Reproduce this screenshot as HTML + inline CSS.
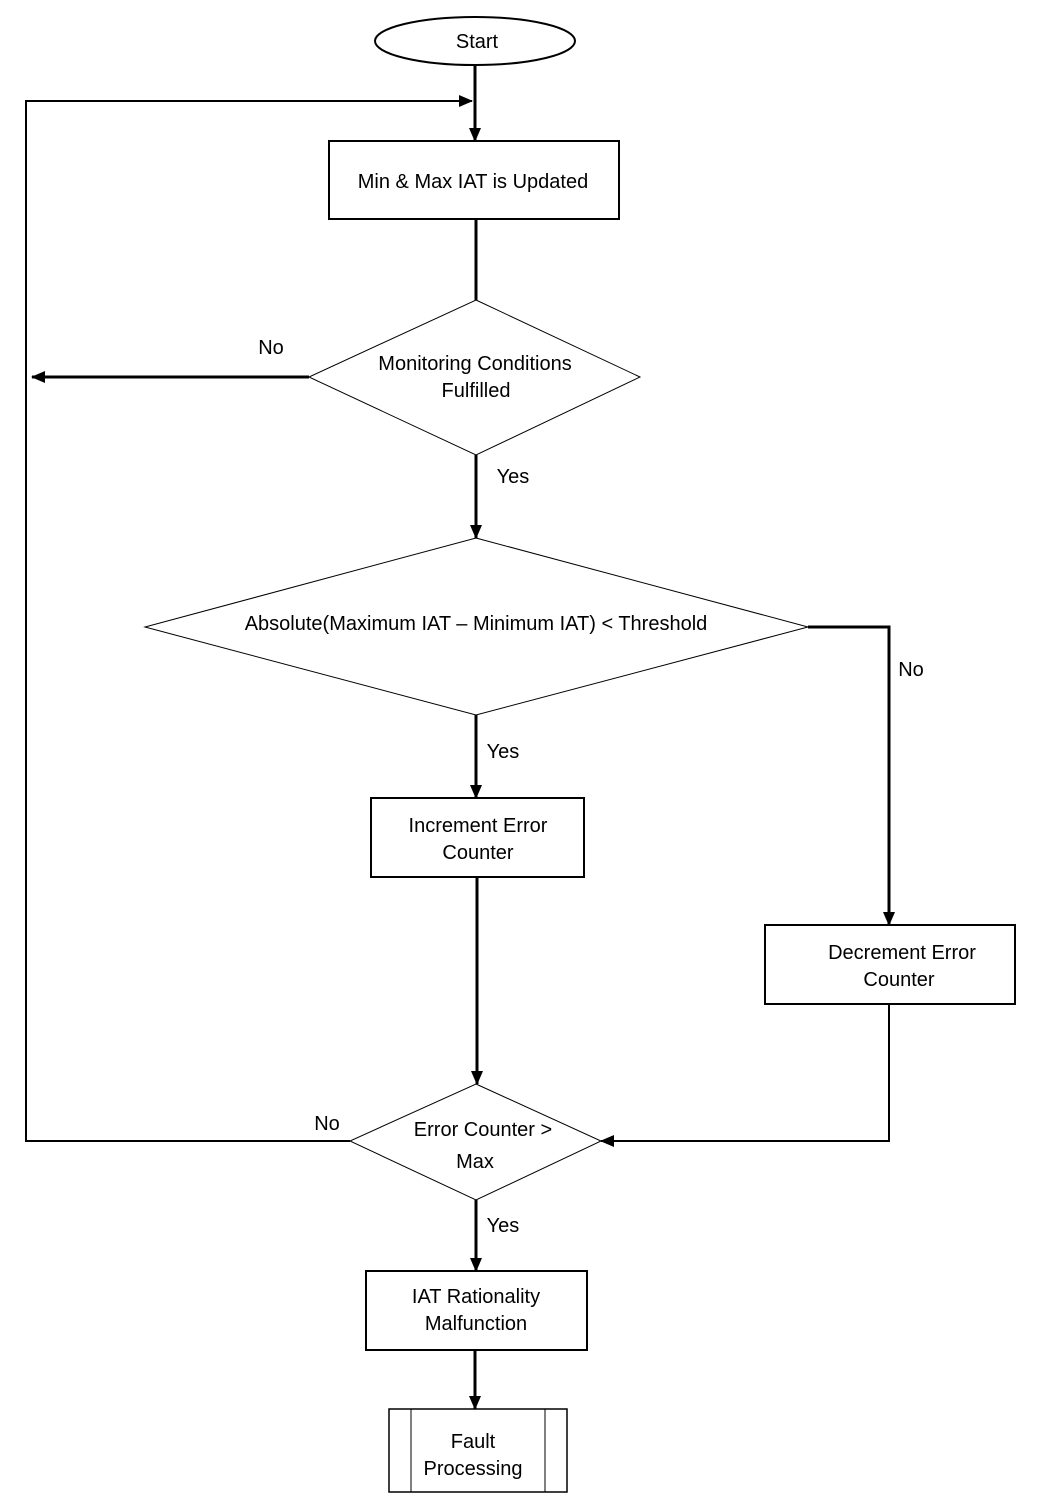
<!DOCTYPE html>
<html><head><meta charset="utf-8"><style>
html,body{margin:0;padding:0;background:#fff;}
svg text{font-family:"Liberation Sans",Arial,sans-serif;font-size:20px;fill:#000;text-anchor:middle;}
</style></head><body>
<svg width="1056" height="1502" viewBox="0 0 1056 1502" xmlns="http://www.w3.org/2000/svg">
<defs>
<marker id="a" markerWidth="10" markerHeight="10" refX="9" refY="5" orient="auto" markerUnits="userSpaceOnUse" viewBox="0 0 10 10">
<path d="M0,0 L10,5 L0,10 z" fill="#000" transform="scale(1)"/>
</marker>
<marker id="b" markerWidth="14" markerHeight="14" refX="13" refY="7" orient="auto" markerUnits="userSpaceOnUse" viewBox="0 0 14 14">
<path d="M0,1 L14,7 L0,13 z" fill="#000"/>
</marker>
</defs>
<g fill="none" stroke="#000">
<ellipse cx="475" cy="41" rx="100" ry="24" stroke-width="2"/>
<rect x="329" y="141" width="290" height="78" stroke-width="2"/>
<polygon points="476,300 640,377 476,455 309,377" stroke-width="1"/>
<polygon points="476,538 808,627 476,715 145,627" stroke-width="1"/>
<rect x="371" y="798" width="213" height="79" stroke-width="2"/>
<rect x="765" y="925" width="250" height="79" stroke-width="2"/>
<polygon points="476,1084 601,1141 476,1200 350,1141" stroke-width="1"/>
<rect x="366" y="1271" width="221" height="79" stroke-width="2"/>
<rect x="389" y="1409" width="178" height="83" stroke-width="1.5"/>
<line x1="411" y1="1409" x2="411" y2="1492" stroke-width="1"/>
<line x1="545" y1="1409" x2="545" y2="1492" stroke-width="1"/>

<g stroke-width="3">
<line x1="475" y1="66" x2="475" y2="141" marker-end="url(#b)"/>
<polyline points="350,1141 26,1141 26,101 472,101" stroke-width="2" marker-end="url(#b)"/>
<line x1="476" y1="219" x2="476" y2="300"/>
<line x1="309" y1="377" x2="32" y2="377" marker-end="url(#b)"/>
<line x1="476" y1="455" x2="476" y2="538" marker-end="url(#b)"/>
<polyline points="808,627 889,627 889,925" marker-end="url(#b)"/>
<line x1="476" y1="715" x2="476" y2="798" marker-end="url(#b)"/>
<line x1="477" y1="877" x2="477" y2="1084" marker-end="url(#b)"/>
<polyline points="889,1004 889,1141 601,1141" stroke-width="2" marker-end="url(#b)"/>
<line x1="476" y1="1200" x2="476" y2="1271" marker-end="url(#b)"/>
<line x1="475" y1="1350" x2="475" y2="1409" marker-end="url(#b)"/>
</g>
</g>
<text x="477" y="48">Start</text>
<text x="473" y="188">Min &amp; Max IAT is Updated</text>
<text x="475" y="370">Monitoring Conditions</text>
<text x="476" y="397">Fulfilled</text>
<text x="271" y="354">No</text>
<text x="513" y="483">Yes</text>
<text x="476" y="630">Absolute(Maximum IAT – Minimum IAT) &lt; Threshold</text>
<text x="911" y="676">No</text>
<text x="503" y="758">Yes</text>
<text x="478" y="832">Increment Error</text>
<text x="478" y="859">Counter</text>
<text x="902" y="959">Decrement Error</text>
<text x="899" y="986">Counter</text>
<text x="483" y="1136">Error Counter &gt;</text>
<text x="475" y="1168">Max</text>
<text x="327" y="1130">No</text>
<text x="503" y="1232">Yes</text>
<text x="476" y="1303">IAT Rationality</text>
<text x="476" y="1330">Malfunction</text>
<text x="473" y="1448">Fault</text>
<text x="473" y="1475">Processing</text>
</svg>
</body></html>
